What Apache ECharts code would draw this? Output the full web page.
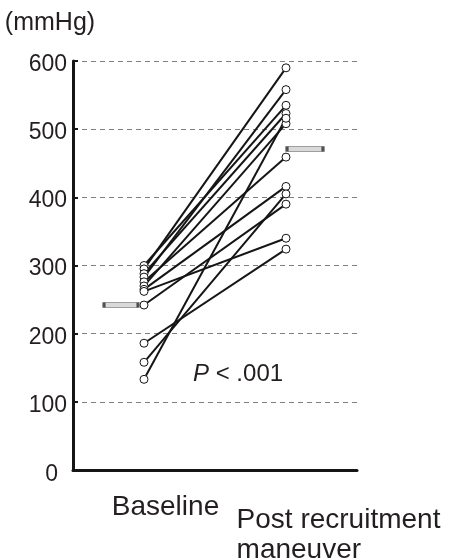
<!DOCTYPE html>
<html>
<head>
<meta charset="utf-8">
<script src="https://cdn.jsdelivr.net/npm/echarts@6/dist/echarts.min.js"></script>
<style>
  html, body { margin: 0; padding: 0; background: #fff; }
  #chart { width: 449px; height: 559px; }
</style>
</head>
<body>
<div id="chart"></div>
<script>
var categories = ['Baseline', 'Post recruitment maneuver'];
var baselineValues = [300, 295, 288, 283, 276, 270, 265, 262, 242, 186, 158, 133];
var postValues     = [535, 590, 523, 558, 459, 508, 416, 340, 390, 324, 405, 516];
var meanValues = [242, 471];
var yTicks = [0, 100, 200, 300, 400, 500, 600];

var FONT = 'Liberation Sans, Arial, Helvetica, sans-serif';
var INK = '#231f20';

var series = [];
for (var i = 0; i < baselineValues.length; i++) {
  series.push({
    type: 'line',
    data: [baselineValues[i], postValues[i]],
    symbol: 'circle',
    symbolSize: 8,
    showAllSymbol: true,
    lineStyle: { color: '#151515', width: 2 },
    itemStyle: { color: '#ffffff', borderColor: '#151515', borderWidth: 1 },
    emphasis: { disabled: true },
    silent: true,
    z: 3
  });
}
series.push({
  type: 'scatter',
  data: [
    { value: meanValues[0], symbolSize: [34, 5], symbolOffset: [-23, 0] },
    { value: meanValues[1], symbolSize: [36, 5], symbolOffset: [19, 0] }
  ],
  symbol: 'rect',
  itemStyle: { color: '#cfcfcf', borderColor: '#2a2a2a', borderWidth: 1.2 },
  silent: true,
  z: 4
});

var chart = echarts.init(document.getElementById('chart'), null, { renderer: 'canvas' });
chart.setOption({
  animation: false,
  backgroundColor: '#ffffff',
  grid: { left: 73, right: 92, top: 61, bottom: 89, containLabel: false, outerBoundsMode: 'none' },
  title: {
    text: '{i|P} < .001',
    left: 188,
    top: 357,
    textStyle: {
      fontFamily: FONT, fontSize: 24, color: INK, fontWeight: 'normal',
      rich: { i: { fontFamily: FONT, fontSize: 24, fontStyle: 'italic', color: INK } }
    }
  },
  xAxis: {
    type: 'category',
    data: categories,
    boundaryGap: true,
    axisLine: { lineStyle: { color: '#151515', width: 3 } },
    axisTick: { inside: true, length: 6, lineStyle: { color: '#151515', width: 3 } },
    axisLabel: {
      margin: 21,
      interval: 0,
      formatter: function (v) {
        if (v === 'Baseline') return '{a|Baseline}';
        return '{b|Post recruitment}\n{c|maneuver}';
      },
      rich: {
        a: { fontFamily: FONT, fontSize: 28, color: INK, lineHeight: 32, padding: [0, 0, 0, 43] },
        b: { fontFamily: FONT, fontSize: 28, color: INK, lineHeight: 33, align: 'left', padding: [25, 0, 0, 105] },
        c: { fontFamily: FONT, fontSize: 28, color: INK, lineHeight: 33, align: 'left', padding: [19, 0, 0, 105] }
      }
    },
    splitLine: { show: false }
  },
  yAxis: {
    type: 'value',
    min: 0,
    max: 600,
    interval: 100,
    name: '(mmHg)',
    nameLocation: 'end',
    nameGap: 25,
    nameTextStyle: { fontFamily: FONT, fontSize: 25, color: INK, padding: [0, 46, 0, 0] },
    axisLine: { show: true, lineStyle: { color: '#151515', width: 3 } },
    axisTick: { show: true, inside: true, length: 5, lineStyle: { color: '#151515', width: 2 } },
    axisLabel: {
      margin: 6,
      fontFamily: FONT, fontSize: 23, color: INK,
      formatter: function (v) {
        if (yTicks.indexOf(v) < 0) return '';
        return v === 0 ? '{z|0}' : '{n|' + v + '}';
      },
      rich: {
        n: { fontFamily: FONT, fontSize: 23, color: INK, padding: [7, 0, 0, 0] },
        z: { fontFamily: FONT, fontSize: 23, color: INK, padding: [9, 9, 0, 0] }
      }
    },
    splitLine: { show: true, lineStyle: { color: '#808080', width: 1, type: [5, 4] } }
  },
  series: series
});
</script>
</body>
</html>
